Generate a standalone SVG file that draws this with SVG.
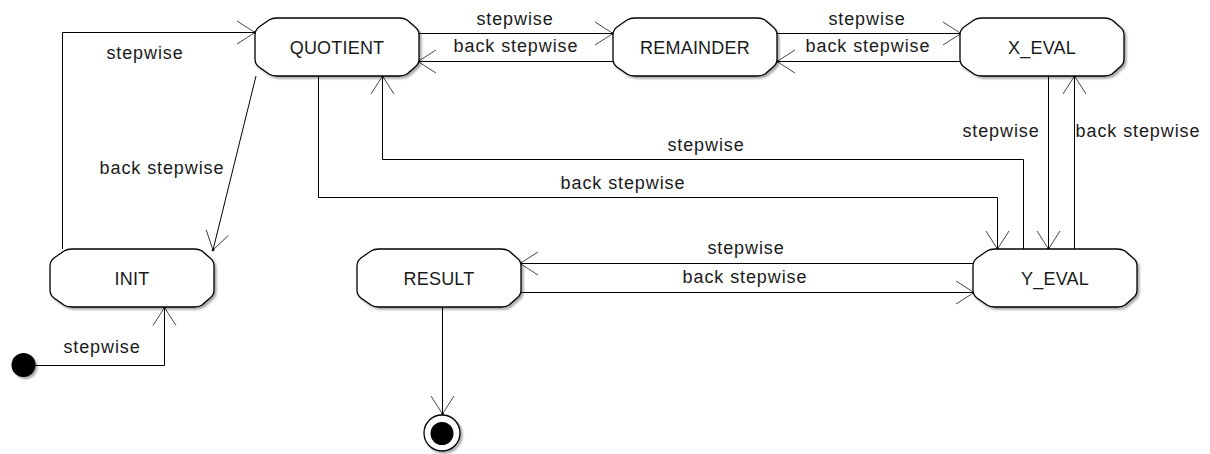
<svg xmlns="http://www.w3.org/2000/svg" xmlns:xlink="http://www.w3.org/1999/xlink" width="1210" height="454" viewBox="0 0 1210 454">
  <style>
    .state { fill: #ffffff; stroke: #000000; stroke-width: 1.3; filter: url(#shadow); }
    .name { font-family: "Liberation Sans", Arial, sans-serif; font-size: 18px; fill: #1a1a1a; text-anchor: middle; letter-spacing: 0.2px; }
    .label { font-family: "Liberation Sans", Arial, sans-serif; font-size: 18px; fill: #1a1a1a; text-anchor: middle; letter-spacing: 0.9px; }
    .edge { fill: none; stroke: #000000; stroke-width: 1; marker-end: url(#open-arrow); }
  </style>
  <defs>
    <filter id="shadow" x="-10%" y="-20%" width="130%" height="150%">
      <feDropShadow dx="2" dy="2" stdDeviation="1.2" flood-color="#000000" flood-opacity="0.35"/>
    </filter>
    <marker id="open-arrow" markerUnits="userSpaceOnUse" markerWidth="24" markerHeight="28" refX="20" refY="13" orient="auto" overflow="visible">
      <path d="M2,1.5 L20,13 L2,24.5" fill="none" stroke="#333333" stroke-width="0.9"/>
      <circle cx="20" cy="13" r="1.3" fill="#000000"/>
    </marker>
    <!-- state outline: 164 x 58 with bevelled, softened corners -->
    <path id="state-shape" d="M22,0 H144 Q149,0 152,2 L160,9 Q164,12 164,17 V41 Q164,46 160,49 L152,56 Q149,58 144,58 H22 Q17,58 14,56 L4,49 Q0,46 0,41 V17 Q0,12 4,9 L14,2 Q17,0 22,0 Z"/>
  </defs>

  <rect width="1210" height="454" fill="#ffffff"/>

  <!-- transitions -->
  <g id="connectors">
    <!-- start -> INIT -->
    <polyline class="edge" points="35,365.5 164.5,365.5 164.5,307.5"/>
    <!-- INIT -> QUOTIENT -->
    <polyline class="edge" points="62.5,249 62.5,32.5 255,32.5"/>
    <!-- QUOTIENT -> INIT -->
    <line class="edge" x1="256" y1="76" x2="213" y2="250"/>
    <!-- QUOTIENT <-> REMAINDER -->
    <line class="edge" x1="417" y1="33.5" x2="613" y2="33.5"/>
    <line class="edge" x1="613" y1="61.5" x2="418" y2="61.5"/>
    <!-- REMAINDER <-> X_EVAL -->
    <line class="edge" x1="776" y1="33.5" x2="961" y2="33.5"/>
    <line class="edge" x1="961" y1="61.5" x2="777" y2="61.5"/>
    <!-- X_EVAL <-> Y_EVAL -->
    <line class="edge" x1="1048.5" y1="76" x2="1048.5" y2="249"/>
    <line class="edge" x1="1074.5" y1="249" x2="1074.5" y2="76"/>
    <!-- Y_EVAL -> QUOTIENT -->
    <polyline class="edge" points="1023.5,249 1023.5,159.5 382.5,159.5 382.5,76"/>
    <!-- QUOTIENT -> Y_EVAL -->
    <polyline class="edge" points="318.5,76 318.5,197.5 997.5,197.5 997.5,249"/>
    <!-- Y_EVAL <-> RESULT -->
    <line class="edge" x1="976" y1="263.5" x2="520" y2="263.5"/>
    <line class="edge" x1="519" y1="292.5" x2="974" y2="292.5"/>
    <!-- RESULT -> final -->
    <line class="edge" x1="442.5" y1="307" x2="442.5" y2="414"/>

    <text class="label" x="102" y="353">stepwise</text>
    <text class="label" x="145" y="59">stepwise</text>
    <text class="label" x="162" y="174">back stepwise</text>
    <text class="label" x="515" y="25">stepwise</text>
    <text class="label" x="516" y="52">back stepwise</text>
    <text class="label" x="867" y="25">stepwise</text>
    <text class="label" x="868" y="52">back stepwise</text>
    <text class="label" x="1001" y="137">stepwise</text>
    <text class="label" x="1138" y="137">back stepwise</text>
    <text class="label" x="706" y="151">stepwise</text>
    <text class="label" x="623" y="189">back stepwise</text>
    <text class="label" x="746" y="254">stepwise</text>
    <text class="label" x="745" y="283">back stepwise</text>
  </g>

  <g id="start">
    <circle cx="23.5" cy="365" r="12" fill="#000000" filter="url(#shadow)"/>
  </g>

  <g id="final">
    <circle cx="442" cy="433" r="18" fill="#ffffff" stroke="#000000" stroke-width="1.3" filter="url(#shadow)"/>
    <circle cx="442" cy="433.5" r="11.5" fill="#000000"/>
  </g>

  <g id="state-init" transform="translate(50,249)">
    <use xlink:href="#state-shape" class="state"/>
    <text class="name" x="82" y="36">INIT</text>
  </g>

  <g id="state-quotient" transform="translate(255,18)">
    <use xlink:href="#state-shape" class="state"/>
    <text class="name" x="82" y="36">QUOTIENT</text>
  </g>

  <g id="state-remainder" transform="translate(613,18)">
    <use xlink:href="#state-shape" class="state"/>
    <text class="name" x="82" y="36">REMAINDER</text>
  </g>

  <g id="state-x-eval" transform="translate(960,18)">
    <use xlink:href="#state-shape" class="state"/>
    <text class="name" x="82" y="36">X_EVAL</text>
  </g>

  <g id="state-result" transform="translate(357,249)">
    <use xlink:href="#state-shape" class="state"/>
    <text class="name" x="82" y="36">RESULT</text>
  </g>

  <g id="state-y-eval" transform="translate(973,249)">
    <use xlink:href="#state-shape" class="state"/>
    <text class="name" x="82" y="36">Y_EVAL</text>
  </g>
</svg>
